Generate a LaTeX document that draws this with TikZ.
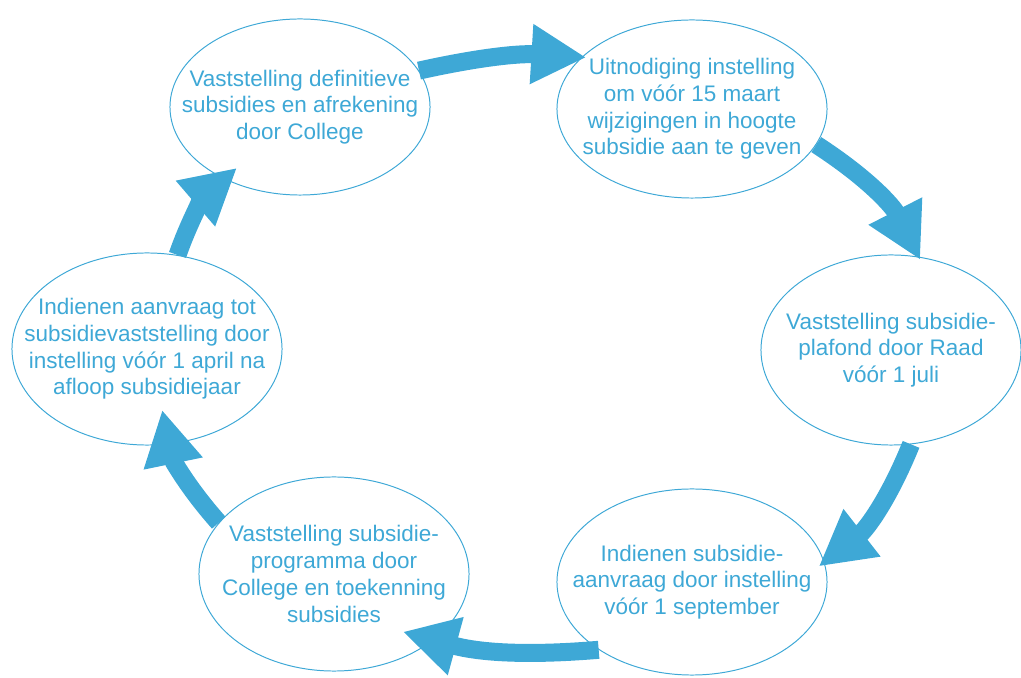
\documentclass[tikz,border=0pt]{standalone}
\usepackage{fontspec}
\setmainfont{Liberation Sans}
\usetikzlibrary{arrows.meta, positioning, shapes.geometric, calc}
\definecolor{cycleblue}{RGB}{62,168,214}

\begin{document}
\begin{tikzpicture}[
  x=0.025cm, y=0.025cm,
  phase/.style={ellipse, draw=cycleblue, line width=0.7pt, inner sep=0pt},
  phasetext/.style={text=cycleblue, align=center, inner sep=0pt, font=\fontsize{16}{19}\selectfont},
  flow/.style={cycleblue, line width=12.8pt, -{Triangle[length=39pt, width=40pt]}, bend left=12}
]
\useasboundingbox (0,0) rectangle (1021,678);

% --- Phases of the subsidy cycle ---
\node[phase, minimum width=6.5cm, minimum height=4.4cm] (e1) at (300,571) {};
\node[phasetext] (t1) at (e1) {Vaststelling definitieve\\subsidies en afrekening\\door College};

\node[phase, minimum width=6.75cm, minimum height=4.45cm] (e2) at (692,569) {};
\node[phasetext] (t2) at (e2) {Uitnodiging instelling\\om vóór 15 maart\\wijzigingen in hoogte\\subsidie aan te geven};

\node[phase, minimum width=6.5cm, minimum height=4.75cm] (e3) at (891,328) {};
\node[phasetext] (t3) at (e3) {Vaststelling subsidie-\\plafond door Raad\\vóór 1 juli};

\node[phase, minimum width=6.75cm, minimum height=4.65cm] (e4) at (692,96) {};
\node[phasetext] (t4) at (e4) {Indienen subsidie-\\aanvraag door instelling\\vóór 1 september};

\node[phase, minimum width=6.75cm, minimum height=4.85cm] (e5) at (334,104) {};
\node[phasetext] (t5) at (e5) {Vaststelling subsidie-\\programma door\\College en toekenning\\subsidies};

\node[phase, minimum width=6.75cm, minimum height=4.8cm] (e6) at (147,329) {};
\node[phasetext] (t6) at (e6) {Indienen aanvraag tot\\subsidievaststelling door\\instelling vóór 1 april na\\afloop subsidiejaar};

% --- Cycle arrows ---
\draw[flow, bend left=8] (e1.17) to ($(e2.center)!0.97!(e2.154)$);
\draw[flow, bend left=15] (e2.-16) to ($(e3.center)!0.97!(e3.72)$);
\draw[flow, bend left=15] (e3.-78) to ($(e4.center)!0.95!(e4.7)$);
\draw[flow, bend left=10] (e4.216) to ($(e5.center)!0.78!(e5.-40)$);
\draw[flow, bend left=15] (e5.156) to ($(e6.center)!0.64!(e6.-76)$);
\draw[flow, bend left=15] (e6.72) to ($(e1.center)!0.84!(e1.224)$);

\end{tikzpicture}
\end{document}
